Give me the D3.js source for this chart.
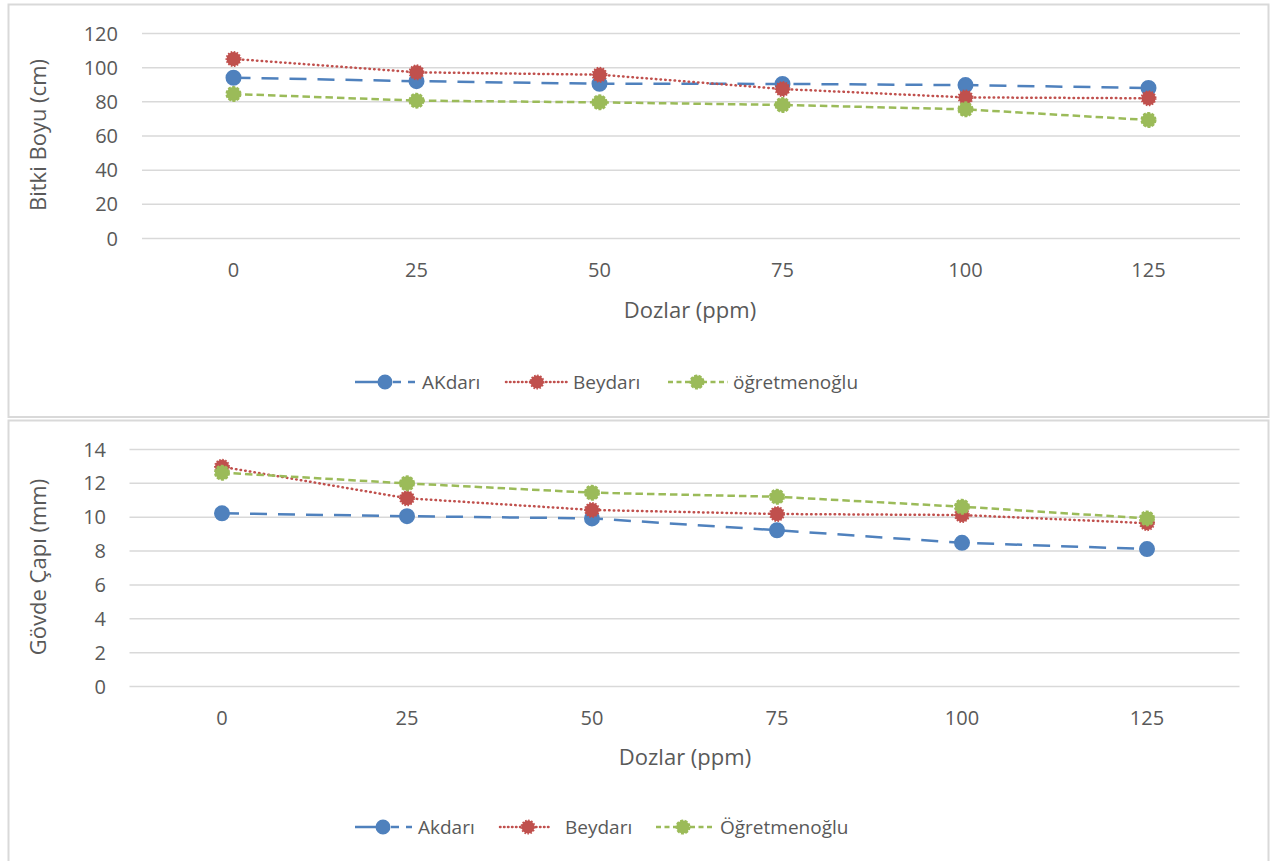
<!DOCTYPE html>
<html><head><meta charset="utf-8">
<script src="https://cdn.jsdelivr.net/npm/d3@7"></script>
<style>
html,body{margin:0;padding:0;background:#fff;}
text{font-family:"Open Sans",sans-serif;fill:#595959;}
</style></head>
<body><svg id="c" width="1271" height="861"></svg>
<script>
const doses = ["0","25","50","75","100","125"];
const seriesNamesTop = ["AKdarı","Beydarı","öğretmenoğlu"];
const seriesNamesBottom = ["Akdarı","Beydarı","Öğretmenoğlu"];
const boyuAkdari = [93.8, 91.8, 90.3, 90.2, 89.5, 87.8];
const boyuBeydari = [104.8, 97.0, 95.6, 87.2, 82.3, 81.8];
const boyuOgretmen = [84.3, 80.4, 79.4, 77.9, 75.3, 69.1];
const capAkdari = [10.2, 10.03, 9.9, 9.2, 8.46, 8.09];
const capBeydari = [12.95, 11.09, 10.4, 10.16, 10.1, 9.62];
const capOgretmen = [12.6, 11.97, 11.42, 11.18, 10.59, 9.9];
const ticksTop = [0,20,40,60,80,100,120];
const ticksBottom = [0,2,4,6,8,10,12,14];

const colors = ["#4F81BD","#C0504D","#9BBB59"];
const dashes = ["17,11","0.5,4.2","7.5,4"];
const caps = ["butt","round","butt"];
const markDash = [null,"1.5,1.5","3,1.5"];
const svg = d3.select("#c");

svg.append("rect").attr("x",8.5).attr("y",4.5).attr("width",1260).attr("height",412.5)
  .attr("fill","none").attr("stroke","#d9d9d9").attr("stroke-width",2);
svg.append("rect").attr("x",8.5).attr("y",420.5).attr("width",1260).attr("height",470)
  .attr("fill","none").attr("stroke","#d9d9d9").attr("stroke-width",2);

function chart(cfg){
  const x = d3.scaleBand().domain(doses).range([cfg.x0,cfg.x1]);
  const y = d3.scaleLinear().domain([0,cfg.ymax]).range([cfg.y0,cfg.y1]);
  const g = svg.append("g");
  g.append("g").attr("transform",`translate(${cfg.x0},0)`)
    .call(d3.axisLeft(y).tickValues(cfg.ticks).tickSize(-(cfg.x1-cfg.x0)).tickPadding(0))
    .call(a=>{
      a.select(".domain").remove();
      a.selectAll(".tick line").attr("stroke","#d9d9d9").attr("stroke-width",1.5);
      a.selectAll(".tick text").attr("x",cfg.tickRight-cfg.x0).attr("font-size",20)
        .attr("fill","#595959").attr("font-family","Open Sans").attr("dy","0.35em");
    });
  g.append("g").attr("transform",`translate(0,${cfg.y0})`)
    .call(d3.axisBottom(x).tickSize(0).tickPadding(0))
    .call(a=>{
      a.select(".domain").remove();
      a.selectAll(".tick text").attr("y",cfg.xTickY-cfg.y0).attr("dy","0.35em").attr("font-size",20)
        .attr("fill","#595959").attr("font-family","Open Sans");
    });
  g.append("text").attr("x",cfg.xTitleX).attr("y",cfg.xTitleY).attr("dy","0.35em")
    .attr("text-anchor","middle").attr("font-size",22).text("Dozlar (ppm)");
  g.append("text").attr("transform",`translate(${cfg.yTitleX},${cfg.yTitleY}) rotate(-90)`)
    .attr("dy","0.35em").attr("text-anchor","middle").attr("font-size",22).text(cfg.yTitle);
  const line = d3.line().x((d,i)=>x(doses[i])+x.bandwidth()/2).y(d=>y(d));
  cfg.series.forEach((s,k)=>{
    g.append("path").datum(s).attr("d",line).attr("fill","none")
      .attr("stroke",colors[k]).attr("stroke-width",2.5).attr("stroke-dasharray",dashes[k])
      .attr("stroke-linecap",caps[k]);
  });
  cfg.series.forEach((s,k)=>{
    g.selectAll(null).data(s).enter().append("circle")
      .attr("cx",(d,i)=>x(doses[i])+x.bandwidth()/2).attr("cy",d=>y(d)).attr("r",7)
      .attr("fill",colors[k]).attr("stroke",colors[k]).attr("stroke-width",2)
      .attr("stroke-dasharray",markDash[k]);
  });
  cfg.legend.forEach((L,k)=>{
    const lg = g.append("g");
    lg.append("line").attr("x1",L.x1).attr("x2",L.x2).attr("y1",cfg.legY).attr("y2",cfg.legY)
      .attr("stroke",colors[k]).attr("stroke-width",2.5).attr("stroke-dasharray",L.dash)
      .attr("stroke-linecap",caps[k]);
    lg.append("circle").attr("cx",L.m).attr("cy",cfg.legY).attr("r",6.5).attr("fill",colors[k])
      .attr("stroke",colors[k]).attr("stroke-width",2).attr("stroke-dasharray",markDash[k]);
    lg.append("text").attr("x",L.t).attr("y",cfg.legY).attr("dy","0.35em").attr("font-size",19)
      .text(cfg.names[k]);
  });
}

chart({x0:142,x1:1240,y0:238,y1:33,ymax:120,ticks:ticksTop,tickRight:118,xTickY:270,
  xTitleX:690,xTitleY:310,yTitleX:38,yTitleY:135,yTitle:"Bitki Boyu (cm)",
  series:[boyuAkdari,boyuBeydari,boyuOgretmen],names:seriesNamesTop,legY:382,
  legend:[{x1:355,x2:415,m:385,t:422,dash:"23,15,8,7"},{x1:506,x2:568,m:537,t:573,dash:"0.5,3.5"},{x1:668,x2:728,m:697,t:733,dash:"5,3.5"}]});
chart({x0:129.5,x1:1239.5,y0:686,y1:449,ymax:14,ticks:ticksBottom,tickRight:106,xTickY:718,
  xTitleX:685,xTitleY:757,yTitleX:38,yTitleY:567,yTitle:"Gövde Çapı (mm)",
  series:[capAkdari,capBeydari,capOgretmen],names:seriesNamesBottom,legY:827,
  legend:[{x1:355,x2:412,m:383,t:418,dash:"21,15,8,7"},{x1:500,x2:550,m:528,t:565,dash:"0.5,3.5"},{x1:656,x2:713,m:683,t:720,dash:"5,3.5"}]});
</script></body></html>
